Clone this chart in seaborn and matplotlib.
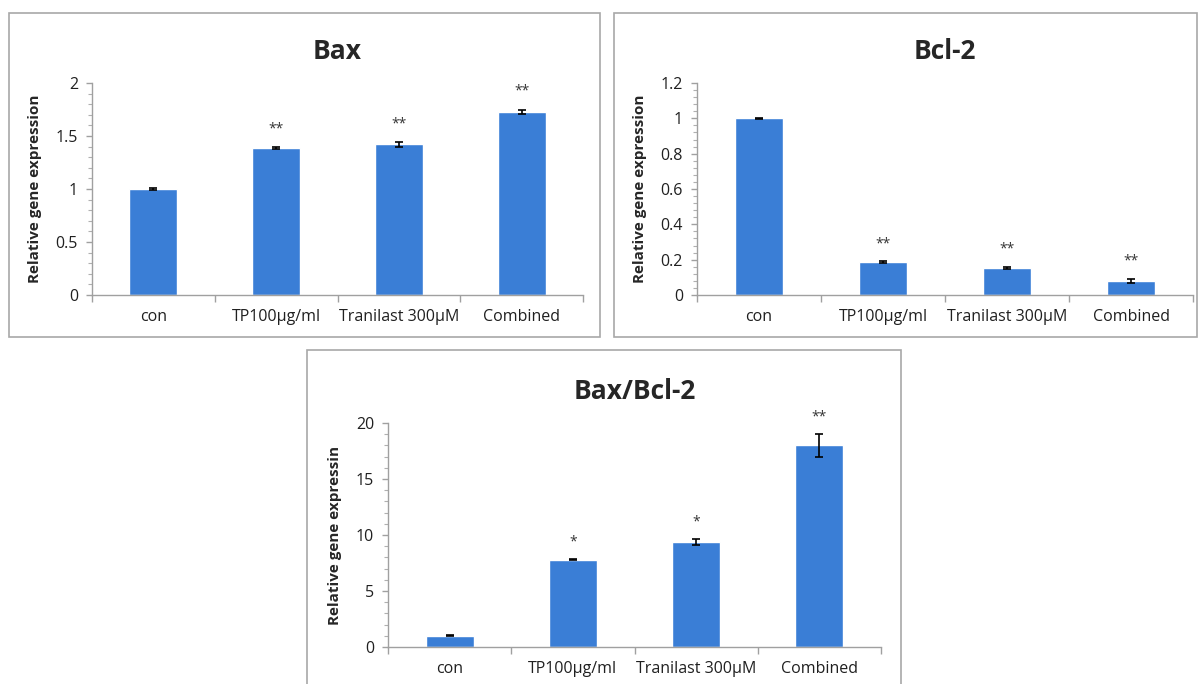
import pandas as pd
import matplotlib.pyplot as plt
import seaborn as sns
from matplotlib.patches import Rectangle
from matplotlib.ticker import MultipleLocator

# Data
groups = ["con", "TP100µg/ml", "Tranilast 300µM", "Combined"]

bax_mean = [1.0, 1.39, 1.42, 1.73]
bax_err = [0.005, 0.01, 0.02, 0.02]
bax_stars = ["", "**", "**", "**"]

bcl2_mean = [1.0, 0.185, 0.155, 0.08]
bcl2_err = [0.002, 0.005, 0.005, 0.01]
bcl2_stars = ["", "**", "**", "**"]

ratio_mean = [1.0, 7.8, 9.4, 18.0]
ratio_err = [0.05, 0.05, 0.25, 1.0]
ratio_stars = ["", "*", "*", "**"]

BAR_COLOR = "#3a7ed6"
FONT = ["Open Sans", "DejaVu Sans"]


def draw_panel(ax, title, means, errs, stars, ylabel, ymax, major, minor, star_pad):
    df = pd.DataFrame({"group": groups, "value": means})
    sns.barplot(data=df, x="group", y="value", color=BAR_COLOR, width=0.39,
                saturation=1, errorbar=None, ax=ax)
    ax.errorbar(range(len(groups)), means, yerr=errs, fmt="none",
                ecolor="black", elinewidth=1.2, capsize=3, capthick=1.2)

    # significance markers above the bars
    for i, (m, e, s) in enumerate(zip(means, errs, stars)):
        if s:
            ax.text(i, m + e + star_pad, s, ha="center", va="center",
                    fontsize=10, color="#333333", family=FONT)

    ax.set_ylim(0, ymax)
    ax.set_xlim(-0.5, len(groups) - 0.5)
    ax.yaxis.set_major_locator(MultipleLocator(major))
    ax.yaxis.set_minor_locator(MultipleLocator(minor))
    ax.yaxis.set_major_formatter(plt.FuncFormatter(lambda v, p: f"{v:g}"))

    # Excel style category ticks between the bars
    ax.set_xticks([i - 0.5 for i in range(len(groups) + 1)], minor=True)
    ax.tick_params(axis="x", which="major", length=0, pad=10)
    ax.tick_params(axis="x", which="minor", bottom=True, direction="out",
                   length=5, width=1, color="#a0a0a0")
    ax.tick_params(axis="y", which="major", left=True, direction="out",
                   length=4, width=1, color="#a0a0a0", pad=6)
    ax.tick_params(axis="y", which="minor", left=True, direction="out",
                   length=3, width=0.8, color="#b0b0b0")

    for lab in ax.get_xticklabels() + ax.get_yticklabels():
        lab.set_family(FONT)
        lab.set_fontsize(11.5)
        lab.set_color("#202020")

    for side in ["top", "right"]:
        ax.spines[side].set_visible(False)
    for side in ["left", "bottom"]:
        ax.spines[side].set_color("#a0a0a0")
        ax.spines[side].set_linewidth(1)

    ax.set_xlabel("")
    ax.set_ylabel(ylabel, fontsize=11, fontweight="bold", family=FONT, labelpad=10)
    ax.set_title(title, fontsize=19, fontweight="bold", family=FONT, pad=17)


sns.set_theme(style="white")
plt.rcParams["font.family"] = FONT

fig = plt.figure(figsize=(12, 6.84), dpi=100)

# panel frames (pixel coords converted to figure fractions)
W, H = 1200, 684
for x0, y0, x1, y1 in [(9, 13, 600, 337), (614, 13, 1197, 337), (307, 350, 901, 690)]:
    fig.add_artist(Rectangle((x0 / W, 1 - y1 / H), (x1 - x0) / W, (y1 - y0) / H,
                             transform=fig.transFigure, fill=False,
                             edgecolor="#a8a8a8", linewidth=1.2))

ax1 = fig.add_axes([92 / W, 1 - 295 / H, (583 - 92) / W, (295 - 83) / H])
ax2 = fig.add_axes([697 / W, 1 - 295 / H, (1193 - 697) / W, (295 - 83) / H])
ax3 = fig.add_axes([388 / W, 1 - 647 / H, (881 - 388) / W, (647 - 423) / H])

draw_panel(ax1, "Bax", bax_mean, bax_err, bax_stars,
           "Relative gene expression", 2, 0.5, 0.1, 0.17)
draw_panel(ax2, "Bcl-2", bcl2_mean, bcl2_err, bcl2_stars,
           "Relative gene expression", 1.2, 0.2, 0.04, 0.1)
draw_panel(ax3, "Bax/Bcl-2", ratio_mean, ratio_err, ratio_stars,
           "Relative gene expressin", 20, 5, 1, 1.5)

fig.savefig("out.png", dpi=100, facecolor="white")
